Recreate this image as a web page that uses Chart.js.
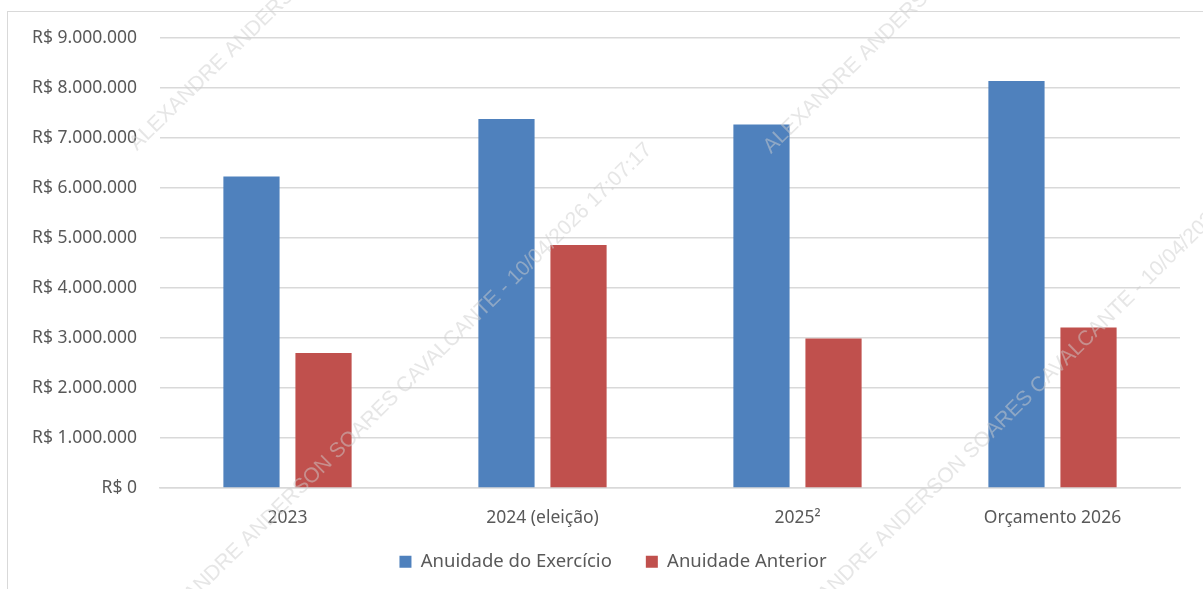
<!DOCTYPE html>
<html><head><meta charset="utf-8">
<script src="https://cdn.jsdelivr.net/npm/chart.js@4/dist/chart.umd.min.js"></script>
<style>html,body{margin:0;padding:0;background:#fff;overflow:hidden;} #wrap{width:1203px;height:589px;position:relative;}</style>
</head><body><div id="wrap"><canvas id="c"></canvas></div>
<script>
const categories = ['2023', '2024 (eleição)', '2025²', 'Orçamento 2026'];
const seriesNames = ['Anuidade do Exercício', 'Anuidade Anterior'];
const anuidadeExercicio = [6230000, 7380000, 7270000, 8140000];
const anuidadeAnterior = [2700000, 4860000, 2990000, 3210000];
const yTickValues = [0, 1000000, 2000000, 3000000, 4000000, 5000000, 6000000, 7000000, 8000000, 9000000];
const watermarkText = 'ALEXANDRE ANDERSON SOARES CAVALCANTE - 10/04/2026 17:07:17';

function brl(v) {
  const s = Math.round(v).toString().replace(/\B(?=(\d{3})+(?!\d))/g, '.');
  return 'R$ ' + s;
}

const frame = {
  id: 'frame',
  beforeDraw(chart) {
    const ctx = chart.ctx;
    ctx.save();
    ctx.fillStyle = '#ffffff';
    ctx.fillRect(0, 0, chart.width, chart.height);
    ctx.strokeStyle = '#d9d9d9';
    ctx.lineWidth = 1;
    ctx.strokeRect(7.5, 11.5, 1400, 800);
    ctx.restore();
  }
};

const watermark = {
  id: 'watermark',
  afterDraw(chart) {
    const ctx = chart.ctx;
    const starts = [[133, 147], [767, 150], [149, 636], [783, 636]];
    ctx.save();
    ctx.font = '21px "Liberation Sans", Arial, sans-serif';
    ctx.fillStyle = 'rgba(205,205,205,0.5)';
    ctx.textBaseline = 'middle';
    ctx.textAlign = 'left';
    starts.forEach(([x, y]) => {
      ctx.save();
      ctx.translate(x, y);
      ctx.rotate(-44.4 * Math.PI / 180);
      ctx.fillText(watermarkText, 0, 0);
      ctx.restore();
    });
    ctx.restore();
  }
};

function noLabelClip(s) { s._computeLabelArea = function () { return undefined; }; }

new Chart(document.getElementById('c'), {
  type: 'bar',
  data: {
    labels: categories,
    datasets: [
      { label: seriesNames[0], data: anuidadeExercicio, backgroundColor: '#4F81BD', borderWidth: 0, categoryPercentage: 0.565, barPercentage: 0.78 },
      { label: seriesNames[1], data: anuidadeAnterior, backgroundColor: '#C0504D', borderWidth: 0, categoryPercentage: 0.565, barPercentage: 0.78 }
    ]
  },
  options: {
    responsive: true,
    maintainAspectRatio: false,
    animation: false,
    devicePixelRatio: 1,
    layout: { padding: { left: 46, right: 23, top: 38, bottom: 8 } },
    plugins: {
      tooltip: { enabled: false },
      legend: {
        position: 'bottom',
        labels: {
          boxWidth: 12, boxHeight: 12, padding: 34,
          color: '#595959',
          font: { family: '"Noto Sans", sans-serif', size: 18.5 }
        }
      }
    },
    scales: {
      x: {
        grid: { display: false, drawTicks: false },
        border: { display: true, color: '#d9d9d9', width: 1.5 },
        ticks: { color: '#595959', padding: 20, font: { family: '"Noto Sans", sans-serif', size: 17.5 } },
        afterFit(s) { s.height = 30.5; noLabelClip(s); }
      },
      y: {
        min: 0, max: 9000000,
        afterBuildTicks(s) { s.ticks = yTickValues.map(v => ({ value: v })); },
        grid: { color: '#d9d9d9', lineWidth: 1.5, drawTicks: false },
        border: { display: false },
        ticks: { color: '#595959', padding: 23, font: { family: '"Noto Sans", sans-serif', size: 17.5 }, callback: v => brl(v) },
        afterFit(s) { s.width = 114; noLabelClip(s); }
      }
    }
  },
  plugins: [frame, watermark]
});
</script>
</body></html>
